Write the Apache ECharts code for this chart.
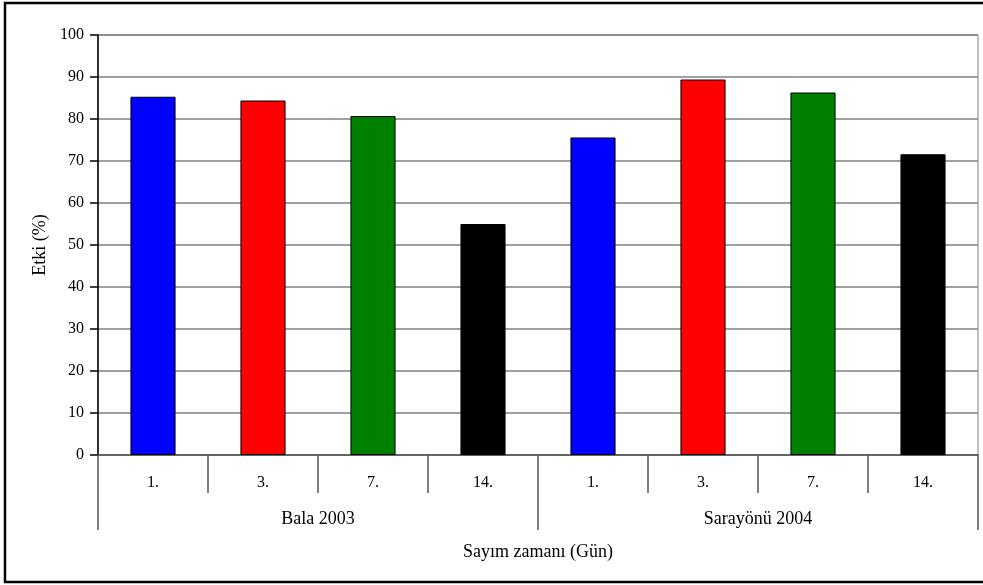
<!DOCTYPE html>
<html>
<head>
<meta charset="utf-8">
<script src="https://cdn.jsdelivr.net/npm/echarts@6/dist/echarts.min.js"></script>
<style>html,body{margin:0;padding:0;background:#fff}#c{width:983px;height:585px}</style>
</head>
<body>
<div id="c"></div>
<script>
var days = ['1.', '3.', '7.', '14.', '1.', '3.', '7.', '14.'];
var groups = ['Bala 2003', 'Sarayönü 2004'];
var values = [85.3, 84.4, 80.7, 55.0, 75.6, 89.4, 86.3, 71.6];
var barColors = ['#0000FF', '#FF0000', '#008000', '#000000', '#0000FF', '#FF0000', '#008000', '#000000'];
var yTicks = { min: 0, max: 100, interval: 10 };
var yName = 'Etki (%)';
var xName = 'Sayım zamanı (Gün)';

var font = 'Liberation Serif, Times New Roman, serif';
var chart = echarts.init(document.getElementById('c'), null, { renderer: 'canvas' });
chart.setOption({
  animation: false,
  backgroundColor: '#fff',
  textStyle: { fontFamily: font },
  graphic: [{
    type: 'rect',
    shape: { x: 5, y: 3, width: 1000, height: 579 },
    style: { fill: 'none', stroke: '#000', lineWidth: 2.5 },
    z: 100
  }],
  grid: { left: 98, right: 5, top: 35, bottom: 130, show: true, borderColor: '#808080', borderWidth: 1, backgroundColor: 'transparent' },
  xAxis: [{
    type: 'category', data: days, position: 'bottom',
    axisLine: { lineStyle: { color: '#555', width: 1.5 } },
    axisTick: { show: true, interval: 0, alignWithLabel: false, length: 38, lineStyle: { color: '#555', width: 1.5 } },
    axisLabel: { color: '#000', fontSize: 16, fontFamily: font, margin: 20, interval: 0 }
  }, {
    type: 'category', data: groups, position: 'bottom',
    axisLine: { show: false },
    axisTick: { show: true, interval: 0, length: 75, lineStyle: { color: '#555', width: 1.5 } },
    axisLabel: { color: '#000', fontSize: 18, fontFamily: font, margin: 55, interval: 0 },
    name: xName, nameLocation: 'middle', nameGap: 88,
    nameTextStyle: { color: '#000', fontSize: 18, fontFamily: font }
  }],
  yAxis: {
    type: 'value', min: yTicks.min, max: yTicks.max, interval: yTicks.interval,
    axisLine: { show: true, lineStyle: { color: '#000', width: 1.5 } },
    axisTick: { show: true, length: 8, lineStyle: { color: '#000', width: 1.5 } },
    axisLabel: { color: '#000', fontSize: 16, fontFamily: font, margin: 14 },
    splitLine: { lineStyle: { color: '#808080', width: 1.5 } },
    name: yName, nameLocation: 'middle', nameGap: 36,
    nameTextStyle: { color: '#000', fontSize: 18, fontFamily: font }
  },
  series: [{
    type: 'bar', xAxisIndex: 0, barWidth: '41%',
    data: values.map(function (v, i) {
      return { value: v, itemStyle: { color: barColors[i], borderColor: '#000', borderWidth: 1 } };
    })
  }]
});
</script>
</body>
</html>
